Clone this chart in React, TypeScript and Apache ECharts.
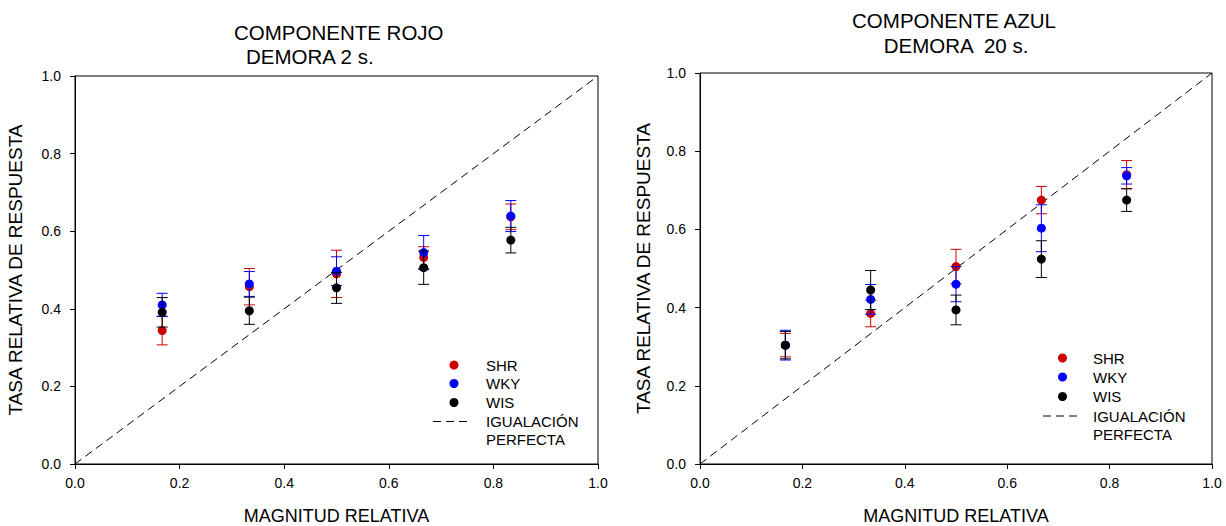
import React, { useEffect, useRef } from "react";
import * as echarts from "echarts";

// Relative magnitude (x positions)
const MAGNITUDES = [0.1667, 0.3333, 0.5, 0.6667, 0.8333];

// Panel 1: COMPONENTE ROJO, DEMORA 2 s.
const ROJO_SHR = [0.344, 0.457, 0.49, 0.532, 0.637];
const ROJO_SHR_ERR = [0.037, 0.047, 0.061, 0.028, 0.033];
const ROJO_WKY = [0.41, 0.464, 0.497, 0.545, 0.639];
const ROJO_WKY_ERR = [0.03, 0.032, 0.037, 0.044, 0.04];
const ROJO_WIS = [0.391, 0.395, 0.454, 0.506, 0.577];
const ROJO_WIS_ERR = [0.038, 0.035, 0.04, 0.043, 0.033];

// Panel 2: COMPONENTE AZUL, DEMORA 20 s.
const AZUL_SHR = [0.304, 0.385, 0.505, 0.675, 0.74];
const AZUL_SHR_ERR = [0.03, 0.034, 0.044, 0.035, 0.036];
const AZUL_WKY = [0.304, 0.421, 0.46, 0.603, 0.737];
const AZUL_WKY_ERR = [0.038, 0.038, 0.045, 0.06, 0.021];
const AZUL_WIS = [0.304, 0.445, 0.394, 0.524, 0.675];
const AZUL_WIS_ERR = [0.035, 0.05, 0.038, 0.047, 0.029];

const DIAGONAL = [
  [0, 0],
  [1, 1],
];

const SERIES_NAMES = ["SHR", "WKY", "WIS"];
const COLORS = ["#cc0000", "#0000ff", "#000000"];

const FONT = "'Liberation Sans', Arial, sans-serif";

function errRender(color: string) {
  return (params: any, api: any) => {
    const x = api.value(0);
    const y = api.value(1);
    const e = api.value(2);
    const hi = api.coord([x, y + e]);
    const lo = api.coord([x, y - e]);
    const w = 5.5;
    const st = { stroke: color, lineWidth: 1 };
    return {
      type: "group",
      children: [
        { type: "line", shape: { x1: hi[0], y1: hi[1], x2: lo[0], y2: lo[1] }, style: st },
        { type: "line", shape: { x1: hi[0] - w, y1: hi[1], x2: hi[0] + w, y2: hi[1] }, style: st },
        { type: "line", shape: { x1: lo[0] - w, y1: lo[1], x2: lo[0] + w, y2: lo[1] }, style: st },
      ],
    };
  };
}

function panelSeries(idx: number, means: number[][], errs: number[][]) {
  const out: any[] = [
    {
      type: "line",
      xAxisIndex: idx,
      yAxisIndex: idx,
      data: DIAGONAL,
      symbol: "none",
      lineStyle: { color: "#000", width: 1, type: [8, 5] },
      silent: true,
      z: 1,
    },
  ];
  means.forEach((m, s) => {
    out.push({
      type: "custom",
      name: SERIES_NAMES[s] + "_err" + idx,
      xAxisIndex: idx,
      yAxisIndex: idx,
      renderItem: errRender(COLORS[s]),
      data: MAGNITUDES.map((x, i) => [x, m[i], errs[s][i]]),
      encode: { x: 0, y: 1 },
      z: 2 + s * 2,
    });
    out.push({
      type: "scatter",
      name: SERIES_NAMES[s],
      xAxisIndex: idx,
      yAxisIndex: idx,
      data: MAGNITUDES.map((x, i) => [x, m[i]]),
      symbol: "circle",
      symbolSize: 9,
      itemStyle: { color: COLORS[s], opacity: 1 },
      z: 3 + s * 2,
    });
  });
  return out;
}

function axisX(idx: number, nameGap: number) {
  return {
    type: "value",
    gridIndex: idx,
    min: 0,
    max: 1,
    interval: 0.2,
    name: "MAGNITUD RELATIVA",
    nameLocation: "middle",
    nameGap,
    nameTextStyle: { fontFamily: FONT, fontSize: 18, color: "#000" },
    axisLine: { show: true, lineStyle: { color: "#000", width: 1 } },
    axisTick: { show: true, inside: false, length: 5, lineStyle: { color: "#000" } },
    axisLabel: {
      fontFamily: FONT,
      fontSize: 14,
      color: "#000",
      margin: 12,
      formatter: (v: number) => v.toFixed(1),
    },
    splitLine: { show: false },
  };
}

function axisY(idx: number, nameGap: number) {
  return {
    type: "value",
    gridIndex: idx,
    min: 0,
    max: 1,
    interval: 0.2,
    name: "TASA RELATIVA DE RESPUESTA",
    nameLocation: "middle",
    nameGap,
    nameRotate: 90,
    nameTextStyle: { fontFamily: FONT, fontSize: 19, color: "#000" },
    axisLine: { show: true, lineStyle: { color: "#000", width: 1 } },
    axisTick: { show: true, inside: false, length: 5, lineStyle: { color: "#000" } },
    axisLabel: {
      fontFamily: FONT,
      fontSize: 14,
      color: "#000",
      margin: 14,
      formatter: (v: number) => v.toFixed(1),
    },
    splitLine: { show: false },
  };
}

function legendGraphics(dotX: number, textX: number, ys: number[], lineX1: number, lineX2: number, lineY: number, line2Y: number) {
  const els: any[] = [];
  SERIES_NAMES.forEach((n, i) => {
    els.push({
      type: "circle",
      shape: { cx: dotX, cy: ys[i], r: 4.5 },
      style: { fill: COLORS[i] },
    });
    els.push({
      type: "text",
      x: textX,
      y: ys[i],
      style: { text: n, fill: "#000", font: `15px ${FONT}`, textAlign: "left", textVerticalAlign: "middle" },
    });
  });
  els.push({
    type: "line",
    shape: { x1: lineX1, y1: lineY, x2: lineX2, y2: lineY },
    style: { stroke: "#000", lineWidth: 1, lineDash: [8, 5] },
  });
  els.push({
    type: "text",
    x: textX,
    y: lineY,
    style: { text: "IGUALACIÓN", fill: "#000", font: `15px ${FONT}`, textAlign: "left", textVerticalAlign: "middle" },
  });
  els.push({
    type: "text",
    x: textX,
    y: line2Y,
    style: { text: "PERFECTA", fill: "#000", font: `15px ${FONT}`, textAlign: "left", textVerticalAlign: "middle" },
  });
  return els;
}

export default function App() {
  const ref = useRef<HTMLDivElement>(null);
  useEffect(() => {
    if (!ref.current) return;
    const chart = echarts.init(ref.current, null, { renderer: "svg" });
    const titleStyle = { fontFamily: FONT, fontSize: 20.5, fontWeight: "normal" as const, color: "#000" };
    chart.setOption({
      animation: false,
      backgroundColor: "#ffffff",
      title: [
        { text: "COMPONENTE ROJO", left: 234, top: 22, textStyle: titleStyle, padding: 0 },
        { text: "DEMORA 2 s.", left: 246, top: 46, textStyle: titleStyle, padding: 0 },
        { text: "COMPONENTE AZUL", left: 954, top: 10, textAlign: "center", textStyle: titleStyle, padding: 0 },
        { text: "DEMORA  20 s.", left: 956, top: 35, textAlign: "center", textStyle: titleStyle, padding: 0 },
      ],
      grid: [
        { left: 75, top: 76, width: 523, height: 388, outerBoundsMode: "none", containLabel: false, show: true, borderColor: "#000", borderWidth: 1, backgroundColor: "transparent" },
        { left: 700, top: 73, width: 512, height: 391, outerBoundsMode: "none", containLabel: false, show: true, borderColor: "#000", borderWidth: 1, backgroundColor: "transparent" },
      ],
      xAxis: [axisX(0, 43), axisX(1, 43)],
      yAxis: [axisY(0, 50), axisY(1, 47)],
      series: [
        ...panelSeries(0, [ROJO_SHR, ROJO_WKY, ROJO_WIS], [ROJO_SHR_ERR, ROJO_WKY_ERR, ROJO_WIS_ERR]),
        ...panelSeries(1, [AZUL_SHR, AZUL_WKY, AZUL_WIS], [AZUL_SHR_ERR, AZUL_WKY_ERR, AZUL_WIS_ERR]),
      ],
      graphic: [
        ...legendGraphics(454, 486, [365, 383.5, 402.5], 433, 471, 421.5, 439),
        ...legendGraphics(1062.5, 1093, [358, 377, 396.5], 1043, 1080, 416, 434),
      ],
    });
    return () => chart.dispose();
  }, []);
  return (
    <div
      ref={ref}
      style={{ position: "fixed", left: 0, top: 0, width: 1226, height: 526, background: "#fff" }}
    />
  );
}
